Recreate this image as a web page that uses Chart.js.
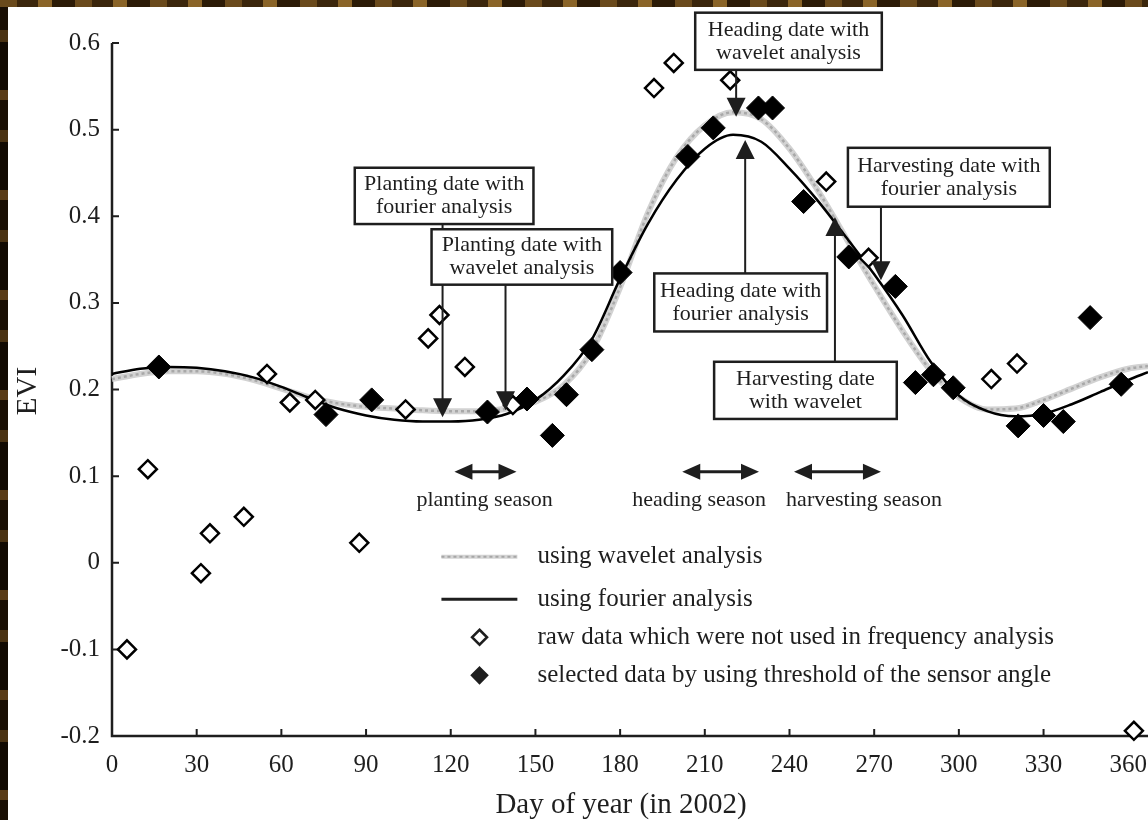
<!DOCTYPE html>
<html>
<head>
<meta charset="utf-8">
<script src="https://cdn.jsdelivr.net/npm/chart.js@4.4.1/dist/chart.umd.min.js"></script>
<style>
  html, body { margin: 0; padding: 0; }
  body {
    width: 1148px; height: 820px; overflow: hidden;
    background:
      repeating-linear-gradient(90deg, #6a4a1c 0 17px, #3b260c 17px 38px, #8a6428 38px 52px, #2c1b07 52px 75px) top left / 100% 7px no-repeat,
      repeating-linear-gradient(180deg, #1a0f04 0 30px, #4a3212 30px 42px, #120a02 42px 90px, #5a3c16 90px 100px) top left / 8px 100% no-repeat,
      #20140a;
  }
  canvas { position: absolute; left: 0; top: 0; }
</style>
</head>
<body>
<canvas id="evi" width="1148" height="820"></canvas>
<script>
// fitted curves, sampled every 10 days
const days = [0, 10, 20, 30, 40, 50, 60, 70, 80, 90, 100, 110, 120, 130, 140, 150, 160, 170, 180,
  190, 200, 210, 220, 230, 240, 250, 260, 270, 280, 290, 300, 310, 320, 330, 340, 350, 360, 367];
const fourierEvi = [0.218, 0.224, 0.226, 0.225, 0.221, 0.214, 0.203, 0.190, 0.178, 0.170, 0.165, 0.163,
  0.163, 0.165, 0.172, 0.188, 0.216, 0.258, 0.328, 0.392, 0.442, 0.478, 0.494, 0.486, 0.455, 0.418,
  0.376, 0.333, 0.286, 0.232, 0.193, 0.175, 0.169, 0.172, 0.183, 0.197, 0.211, 0.220];
const waveletEvi = [0.212, 0.218, 0.221, 0.221, 0.218, 0.211, 0.201, 0.191, 0.184, 0.180, 0.178, 0.176,
  0.175, 0.175, 0.178, 0.186, 0.205, 0.245, 0.318, 0.405, 0.468, 0.505, 0.520, 0.512, 0.478, 0.430,
  0.375, 0.320, 0.268, 0.222, 0.191, 0.177, 0.178, 0.188, 0.201, 0.214, 0.224, 0.227];

// raw observations not used in the frequency analysis (open diamonds)
const rawDays = [5.3, 12.7, 31.5, 34.7, 46.7, 54.9, 63, 72, 87.6, 104, 112, 116, 125, 142,
  192, 199, 219, 253, 268, 311.5, 320.6, 362];
const rawEvi = [-0.100, 0.108, -0.012, 0.034, 0.053, 0.218, 0.185, 0.188, 0.023, 0.177, 0.259, 0.286,
  0.226, 0.182, 0.548, 0.577, 0.557, 0.440, 0.352, 0.212, 0.230, -0.194];

// selected observations (filled diamonds)
const selDays = [16.6, 75.8, 92, 133, 147, 156, 161, 170, 180, 204, 213, 229, 234, 245, 261, 277.5,
  284.6, 291, 298, 321, 330, 337, 346.5, 357.5];
const selEvi = [0.226, 0.171, 0.188, 0.174, 0.189, 0.147, 0.194, 0.246, 0.335, 0.469, 0.502, 0.525,
  0.525, 0.417, 0.353, 0.319, 0.208, 0.217, 0.202, 0.158, 0.170, 0.163, 0.283, 0.206];

const xTicks = [0, 30, 60, 90, 120, 150, 180, 210, 240, 270, 300, 330, 360];
const yTicks = [-0.2, -0.1, 0, 0.1, 0.2, 0.3, 0.4, 0.5, 0.6];

const SERIF = "'Liberation Serif', 'DejaVu Serif', serif";
const INK = '#1e1e1e';

const pts = (xs, ys) => xs.map((x, i) => ({ x: x, y: ys[i] }));

// callouts, in data units: box [x1, x2, yTop, yBottom], arrow [x, yFrom, yTip]
const callouts = [
  { lines: ['Planting date with', 'fourier analysis'], box: [86, 149.3, 0.456, 0.391], arrow: [117.1, 0.391, 0.168] },
  { lines: ['Planting date with', 'wavelet analysis'], box: [113.2, 177.2, 0.385, 0.321], arrow: [139.4, 0.321, 0.176] },
  { lines: ['Heading date with', 'wavelet analysis'], box: [206.6, 272.7, 0.635, 0.569], arrow: [221.1, 0.569, 0.515] },
  { lines: ['Heading date with', 'fourier analysis'], box: [192.1, 253.3, 0.334, 0.267], arrow: [224.3, 0.334, 0.488] },
  { lines: ['Harvesting date with', 'fourier analysis'], box: [260.7, 332.2, 0.479, 0.411], arrow: [272.4, 0.411, 0.326] },
  { lines: ['Harvesting date', 'with wavelet'], box: [213.3, 278.0, 0.232, 0.166], arrow: [256.1, 0.232, 0.399] }
];
const seasons = [
  { label: 'planting season', from: 121.3, to: 143.3, mid: 132 },
  { label: 'heading season', from: 202, to: 229.2, mid: 208 },
  { label: 'harvesting season', from: 241.6, to: 272.4, mid: 266.4 }
];
const seasonArrowY = 0.105, seasonLabelY = 0.072;

const legendRows = [
  { kind: 'wavelet', y: 0.007, text: 'using wavelet analysis' },
  { kind: 'fourier', y: -0.042, text: 'using fourier analysis' },
  { kind: 'raw', y: -0.086, text: 'raw data which were not used in frequency analysis' },
  { kind: 'selected', y: -0.130, text: 'selected data by using threshold of the sensor angle' }
];

const panel = {
  id: 'panel',
  beforeDraw(chart) {
    const ctx = chart.ctx;
    ctx.save();
    ctx.fillStyle = '#ffffff';
    ctx.fillRect(8, 7, chart.width - 8, chart.height - 7);
    ctx.restore();
  }
};

const axesLines = {
  id: 'axesLines',
  beforeDatasetsDraw(chart) {
    const { ctx, chartArea: a, scales: { x, y } } = chart;
    ctx.save();
    ctx.strokeStyle = INK;
    ctx.lineWidth = 2.5;
    ctx.beginPath();
    ctx.moveTo(a.left, a.top);
    ctx.lineTo(a.left, a.bottom);
    ctx.lineTo(chart.width, a.bottom);
    ctx.stroke();
    ctx.lineWidth = 2;
    ctx.beginPath();
    yTicks.forEach(v => {
      const py = y.getPixelForValue(v);
      ctx.moveTo(a.left, py);
      ctx.lineTo(a.left + 7, py);
    });
    xTicks.forEach(v => {
      const px = x.getPixelForValue(v);
      ctx.moveTo(px, a.bottom);
      ctx.lineTo(px, a.bottom - 7);
    });
    ctx.stroke();

    ctx.fillStyle = INK;
    ctx.font = '29px ' + SERIF;
    ctx.textAlign = 'center';
    ctx.textBaseline = 'middle';
    ctx.fillText('Day of year (in 2002)', 621, 805);
    ctx.translate(28, 391);
    ctx.rotate(-Math.PI / 2);
    ctx.fillText('EVI', 0, 0);
    ctx.restore();
  }
};

function arrowHead(ctx, px, py, dir, len, half) {
  // dir: 'up' | 'down' | 'left' | 'right', (px, py) is the tip
  ctx.beginPath();
  ctx.moveTo(px, py);
  if (dir === 'down') { ctx.lineTo(px - half, py - len); ctx.lineTo(px + half, py - len); }
  if (dir === 'up') { ctx.lineTo(px - half, py + len); ctx.lineTo(px + half, py + len); }
  if (dir === 'left') { ctx.lineTo(px + len, py - half); ctx.lineTo(px + len, py + half); }
  if (dir === 'right') { ctx.lineTo(px - len, py - half); ctx.lineTo(px - len, py + half); }
  ctx.closePath();
  ctx.fill();
}

const notes = {
  id: 'notes',
  afterDatasetsDraw(chart) {
    const { ctx, scales: { x, y } } = chart;
    ctx.save();
    ctx.fillStyle = INK;
    ctx.strokeStyle = INK;

    // vertical arrows first, boxes cover the lines that pass behind them
    callouts.forEach(c => {
      const px = x.getPixelForValue(c.arrow[0]);
      const y0 = y.getPixelForValue(c.arrow[1]);
      const y1 = y.getPixelForValue(c.arrow[2]);
      const dir = y1 > y0 ? 'down' : 'up';
      ctx.lineWidth = 2;
      ctx.beginPath();
      ctx.moveTo(px, y0);
      ctx.lineTo(px, dir === 'down' ? y1 - 10 : y1 + 10);
      ctx.stroke();
      arrowHead(ctx, px, y1, dir, 19, 9.5);
    });

    ctx.font = '22px ' + SERIF;
    ctx.textAlign = 'center';
    ctx.textBaseline = 'middle';
    callouts.forEach(c => {
      const l = x.getPixelForValue(c.box[0]), r = x.getPixelForValue(c.box[1]);
      const t = y.getPixelForValue(c.box[2]), b = y.getPixelForValue(c.box[3]);
      ctx.fillStyle = '#ffffff';
      ctx.fillRect(l, t, r - l, b - t);
      ctx.lineWidth = 2.5;
      ctx.strokeRect(l, t, r - l, b - t);
      ctx.fillStyle = INK;
      const cx = (l + r) / 2, cy = (t + b) / 2;
      ctx.fillText(c.lines[0], cx, cy - 11.5);
      ctx.fillText(c.lines[1], cx, cy + 11.5);
    });

    // season ranges
    seasons.forEach(s => {
      const x1 = x.getPixelForValue(s.from), x2 = x.getPixelForValue(s.to);
      const py = y.getPixelForValue(seasonArrowY);
      ctx.lineWidth = 3;
      ctx.beginPath();
      ctx.moveTo(x1 + 10, py);
      ctx.lineTo(x2 - 10, py);
      ctx.stroke();
      arrowHead(ctx, x1, py, 'left', 18, 8);
      arrowHead(ctx, x2, py, 'right', 18, 8);
      ctx.fillText(s.label, x.getPixelForValue(s.mid), y.getPixelForValue(seasonLabelY));
    });

    // legend
    const lx1 = x.getPixelForValue(116.7), lx2 = x.getPixelForValue(143.6);
    const mx = x.getPixelForValue(130.2), tx = x.getPixelForValue(150.7);
    ctx.font = '25px ' + SERIF;
    ctx.textAlign = 'left';
    legendRows.forEach(row => {
      const py = y.getPixelForValue(row.y);
      if (row.kind === 'wavelet') {
        ctx.strokeStyle = '#d4d4d4';
        ctx.lineWidth = 4;
        ctx.beginPath(); ctx.moveTo(lx1, py); ctx.lineTo(lx2, py); ctx.stroke();
        ctx.strokeStyle = '#a6a6a6';
        ctx.lineWidth = 2;
        ctx.setLineDash([3, 3]);
        ctx.beginPath(); ctx.moveTo(lx1, py); ctx.lineTo(lx2, py); ctx.stroke();
        ctx.setLineDash([]);
      } else if (row.kind === 'fourier') {
        ctx.strokeStyle = INK;
        ctx.lineWidth = 3;
        ctx.beginPath(); ctx.moveTo(lx1, py); ctx.lineTo(lx2, py); ctx.stroke();
      } else {
        ctx.beginPath();
        ctx.moveTo(mx, py - 7.5); ctx.lineTo(mx + 7.5, py); ctx.lineTo(mx, py + 7.5); ctx.lineTo(mx - 7.5, py);
        ctx.closePath();
        ctx.fillStyle = row.kind === 'raw' ? '#ffffff' : INK;
        ctx.fill();
        ctx.strokeStyle = INK;
        ctx.lineWidth = 2.5;
        ctx.stroke();
      }
      ctx.fillStyle = INK;
      ctx.fillText(row.text, tx, py);
    });
    ctx.restore();
  }
};

Chart.defaults.font.family = SERIF;
Chart.defaults.color = INK;

new Chart(document.getElementById('evi'), {
  type: 'scatter',
  data: {
    datasets: [{
      label: 'selected data by using threshold of the sensor angle',
      data: pts(selDays, selEvi),
      pointStyle: 'rectRot',
      pointRadius: 12,
      backgroundColor: '#000000',
      borderColor: '#000000',
      borderWidth: 1,
      clip: false,
      order: 0
    }, {
      label: 'raw data which were not used in frequency analysis',
      data: pts(rawDays, rawEvi),
      pointStyle: 'rectRot',
      pointRadius: 9,
      backgroundColor: '#ffffff',
      borderColor: '#000000',
      borderWidth: 2.5,
      clip: false,
      order: 1
    }, {
      label: 'using fourier analysis',
      data: pts(days, fourierEvi),
      showLine: true,
      pointRadius: 0,
      borderColor: '#000000',
      borderWidth: 2.5,
      cubicInterpolationMode: 'monotone',
      clip: false,
      order: 2
    }, {
      label: 'using wavelet analysis',
      data: pts(days, waveletEvi),
      showLine: true,
      pointRadius: 0,
      borderColor: '#a8a8a8',
      borderWidth: 2.5,
      borderDash: [3, 3],
      cubicInterpolationMode: 'monotone',
      clip: false,
      order: 3
    }, {
      label: 'wavelet band',
      data: pts(days, waveletEvi),
      showLine: true,
      pointRadius: 0,
      borderColor: '#d2d2d2',
      borderWidth: 6,
      cubicInterpolationMode: 'monotone',
      clip: false,
      order: 4
    }]
  },
  options: {
    responsive: false,
    animation: false,
    events: [],
    layout: { autoPadding: false, padding: { top: 43, left: 0, right: 0, bottom: 0 } },
    plugins: {
      legend: { display: false },
      tooltip: { enabled: false }
    },
    scales: {
      x: {
        type: 'linear',
        min: 0,
        max: 367,
        afterFit(scale) {
          scale.height = 84;
          scale.paddingLeft = 0;
          scale.paddingRight = 0;
        },
        afterBuildTicks(scale) { scale.ticks = xTicks.map(v => ({ value: v })); },
        grid: { display: false, drawTicks: false },
        border: { display: false },
        ticks: {
          padding: 14,
          autoSkip: false,
          maxRotation: 0,
          color: INK,
          font: { size: 25, lineHeight: 1.2 }
        }
      },
      y: {
        type: 'linear',
        min: -0.2,
        max: 0.6,
        afterFit(scale) {
          scale.width = 112;
          scale.paddingTop = 0;
          scale.paddingBottom = 0;
        },
        afterBuildTicks(scale) { scale.ticks = yTicks.map(v => ({ value: v })); },
        grid: { display: false, drawTicks: false },
        border: { display: false },
        ticks: {
          padding: 12,
          color: INK,
          font: { size: 25, lineHeight: 1.2 },
          callback: v => String(Math.round(v * 10) / 10)
        }
      }
    }
  },
  plugins: [panel, axesLines, notes]
});
</script>
</body>
</html>
